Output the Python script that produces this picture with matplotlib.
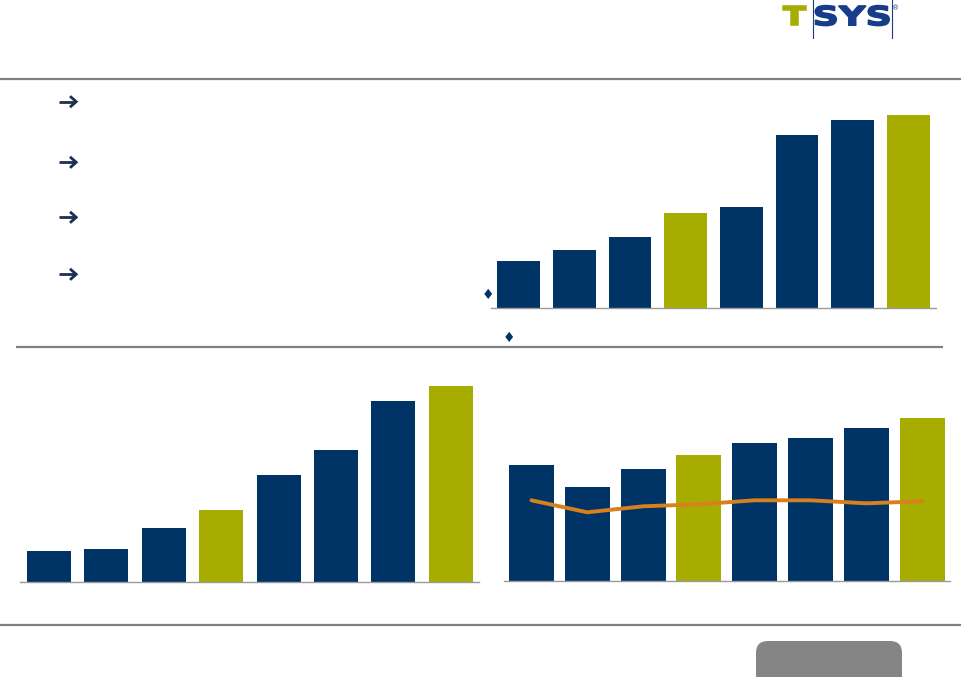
import matplotlib
matplotlib.use("Agg")
import matplotlib.pyplot as plt
from matplotlib.patches import FancyBboxPatch, PathPatch
from matplotlib.textpath import TextPath
from matplotlib.font_manager import FontProperties
from matplotlib.transforms import Affine2D

# ---------------- data (relative values) ----------------
periods = ["P1", "P2", "P3", "P4", "P5", "P6", "P7", "P8"]
top_right_values = [47, 58, 71, 95, 101, 173, 188, 193]
bottom_left_values = [31, 33, 54, 72, 107, 132, 181, 196]
bottom_right_values = [116, 94, 112, 126, 138, 143, 153, 163]
bottom_right_line = [81, 69, 75, 77, 81, 81, 78, 80]
highlight = [False, False, False, True, False, False, False, True]

NAVY = "#003466"
OLIVE = "#A6AD00"
ORANGE = "#D9801E"
LOGO_BLUE = "#173C8A"

W, H = 962, 677
fig = plt.figure(figsize=(W / 100, H / 100), dpi=100)


def fx(x):
    return x / W


def fy(y):
    return 1 - y / H


def add_axes_px(x0, x1, y_base, height_px):
    return fig.add_axes([fx(x0), fy(y_base), (x1 - x0) / W, height_px / H])


def bar_chart(ax, values, width, line=None):
    colors = [OLIVE if h else NAVY for h in highlight]
    xs = list(range(len(values)))
    ax.bar(xs, values, width=width, color=colors, zorder=2)
    if line is not None:
        ax.plot(xs, line, color=ORANGE, lw=2.8, zorder=3, solid_capstyle="round")
    ax.set_xlim(-0.5, len(values) - 0.5)
    ax.set_ylim(0, 200)
    for s in ["top", "right", "left"]:
        ax.spines[s].set_visible(False)
    ax.spines["bottom"].set_color("#9A9A9A")
    ax.spines["bottom"].set_linewidth(1.0)
    ax.set_xticks([])
    ax.set_yticks([])
    ax.patch.set_alpha(0)


# top-right chart
ax1 = add_axes_px(491, 936, 308.3, 200)
bar_chart(ax1, top_right_values, 0.77)

# bottom-left chart
ax2 = add_axes_px(20.3, 479.5, 582.3, 200)
bar_chart(ax2, bottom_left_values, 0.77)

# bottom-right chart
ax3 = add_axes_px(503.6, 950, 581.3, 200)
bar_chart(ax3, bottom_right_values, 0.81, line=bottom_right_line)

# ---------------- overlay axes in pixel coordinates ----------------
ov = fig.add_axes([0, 0, 1, 1], zorder=10)
ov.set_xlim(0, W)
ov.set_ylim(H, 0)
ov.axis("off")
ov.patch.set_alpha(0)

# separators
for x0, x1, y in [(0, 962, 79), (16, 943, 346.5), (0, 962, 625)]:
    ov.plot([x0, x1], [y, y], color="#808080", lw=1.6, solid_capstyle="butt")

# arrows (bullets)
for y in [101.7, 162.3, 217.3, 274.3]:
    ov.plot([59, 75.5], [y, y], color="#1B3050", lw=2.0, solid_capstyle="butt")
    ov.plot([70, 76.2, 70], [y - 5.5, y, y + 5.5], color="#1B3050", lw=2.0,
            solid_joinstyle="miter", solid_capstyle="butt")

# diamonds
for (x, y) in [(488.3, 295), (509, 337.7)]:
    ov.text(x, y, "\u2666", color=NAVY, fontsize=10, ha="center", va="center")

# logo
fp = FontProperties(family="DejaVu Sans", weight="bold")


def logo_letters(text, x0, x1, y_top, y_bot, color, stroke=1.1):
    inset = stroke * 100 / 72 / 2
    x0, x1, y_top, y_bot = x0 + inset, x1 - inset, y_top + inset, y_bot - inset
    tp = TextPath((0, 0), text, size=100, prop=fp)
    ext = tp.get_extents()
    sx = (x1 - x0) / ext.width
    sy = (y_bot - y_top) / ext.height
    tr = Affine2D().translate(-ext.x0, -ext.y0).scale(sx, -sy).translate(x0, y_bot)
    ov.add_patch(PathPatch(tr.transform_path(tp), facecolor=color, edgecolor=color,
                           lw=stroke, joinstyle="miter"))


logo_letters("T", 782, 807, 5.3, 26, OLIVE)
logo_letters("SYS", 814.5, 890, 4.8, 26.4, LOGO_BLUE)
for x in [812.7, 891.7]:
    ov.plot([x, x], [0, 38], color=LOGO_BLUE, lw=0.8)
ov.text(896, 8, "\u00ae", color=LOGO_BLUE, fontsize=5, ha="center", va="center")

# gray rounded box at bottom
box = FancyBboxPatch((768, 653), 902 - 756 - 24, 60, boxstyle="round,pad=12",
                     facecolor="#858585", edgecolor="none")
ov.add_patch(box)

fig.savefig("out.png", dpi=100)
